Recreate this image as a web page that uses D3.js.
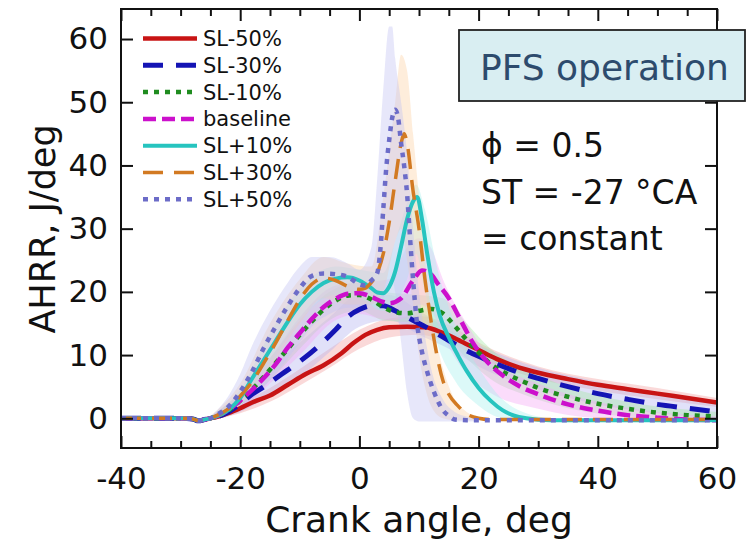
<!DOCTYPE html>
<html>
<head>
<meta charset="utf-8">
<script src="https://cdn.jsdelivr.net/npm/d3@7"></script>
<style>
  body { margin: 0; background: #fff; }
  svg text { font-family: "DejaVu Sans", sans-serif; }
</style>
</head>
<body>
<svg id="chart" width="756" height="542"></svg>
<script>
// ---- data: apparent heat release rate vs crank angle ----
const crankTicks = [-40, -20, 0, 20, 40, 60];
const crankMinorTicks = [-35, -30, -25, -15, -10, -5, 5, 10, 15, 25, 30, 35, 45, 50, 55];
const ahrrTicks = [0, 10, 20, 30, 40, 50, 60];

const seriesNames = ["SL-50%", "SL-30%", "SL-10%", "baseline", "SL+10%", "SL+30%", "SL+50%"];

// mean curves: [crank angle (deg), AHRR (J/deg)]
const slMinus50 = [[-40,0],[-30,0],[-28,-0.1],[-27,-0.4],[-26,-0.2],[-25,0],[-24,0.2],[-22,0.8],[-20,1.6],[-18,2.5],[-15,3.6],[-12,5.3],[-9,7.0],[-6,8.4],[-3,10.3],[-1,11.9],[1,13.2],[3,14.0],[5,14.4],[8,14.5],[11,14.4],[14,13.5],[17,12.2],[20,10.8],[23,9.4],[26,8.3],[30,7.2],[35,6.2],[40,5.3],[45,4.6],[50,3.9],[55,3.2],[60,2.5]];
const slMinus30 = [[-40,0],[-30,0],[-28,-0.1],[-27,-0.4],[-26,-0.2],[-25,0],[-24,0.2],[-22,1.0],[-20,2.3],[-18,3.8],[-16,5.0],[-13,7.0],[-10,9.0],[-7,11.3],[-4,14.0],[-2,16.0],[0,17.2],[2,17.8],[4,17.8],[6,17.0],[8,16.0],[10,15.0],[12,14.0],[15,12.3],[18,10.7],[20,9.8],[23,8.6],[26,7.5],[30,6.3],[35,5.0],[40,3.9],[45,3.0],[50,2.2],[55,1.6],[60,1.0]];
const slMinus10 = [[-40,0],[-30,0],[-28,-0.1],[-27,-0.4],[-26,-0.2],[-25,0],[-24,0.3],[-22,1.2],[-20,2.8],[-18,4.6],[-16,6.6],[-14,8.8],[-12,11.0],[-10,13.2],[-8,15.3],[-6,17.2],[-4,18.6],[-2,19.4],[0,19.5],[2,18.8],[4,17.6],[6,16.8],[8,16.6],[10,17.0],[12,17.3],[14,16.6],[16,14.6],[18,12.4],[20,10.4],[22,8.6],[25,6.9],[28,5.6],[30,4.8],[35,3.4],[40,2.3],[45,1.5],[50,0.9],[55,0.5],[60,0.3]];
const baseline = [[-40,0],[-30,0],[-28,-0.1],[-27,-0.4],[-26,-0.2],[-25,0],[-24,0.3],[-22,1.3],[-20,2.8],[-18,4.5],[-16,6.4],[-14,8.6],[-12,11.2],[-10,13.5],[-8,15.7],[-6,17.6],[-4,18.9],[-2,19.7],[0,19.8],[2,19.2],[4,18.4],[5,18.2],[7,19.0],[9,21.8],[10.5,23.4],[12,22.8],[13,21.5],[15,19.0],[17,15.5],[19,12.0],[21,9.4],[24,6.8],[27,5.0],[30,3.8],[35,2.2],[40,1.2],[45,0.5],[50,0.1],[55,-0.2],[60,-0.3]];
const slPlus10 = [[-40,0],[-30,0],[-28,-0.1],[-27,-0.4],[-26,-0.2],[-25,0],[-24,0.3],[-22,1.3],[-20,3.2],[-18,6.3],[-16,9.3],[-14,12.3],[-12,15.3],[-10,18.0],[-8,20.0],[-6,21.4],[-4,22.1],[-2,22.3],[0,21.8],[2,20.6],[3,19.9],[4,19.8],[5,20.8],[6,23.2],[7,27.2],[8,31.5],[9,34.3],[9.7,35.0],[10.5,31.5],[11.3,26.5],[12.5,20.0],[13.5,16.2],[15,12.8],[16.5,10.0],[18,7.5],[20,4.8],[22,2.8],[24,1.3],[26,0.4],[28,0],[32,-0.3],[60,-0.3]];
const slPlus30 = [[-40,0],[-30,0],[-28,-0.1],[-27,-0.4],[-26,-0.2],[-25,0],[-24,0.4],[-22,1.5],[-20,3.5],[-18,5.8],[-16,8.8],[-14,12.0],[-12,15.5],[-10,18.8],[-8,21.2],[-6,22.2],[-4,21.8],[-2,20.9],[0,20.4],[1,20.6],[2,21.5],[3,23.0],[4,26.0],[5,31.0],[6,37.5],[7,43.5],[7.5,45.0],[8,43.5],[9,36.0],[10,30.0],[11,22.0],[12,15.5],[13,10.0],[14,6.0],[15,3.8],[16.5,2.0],[18,0.7],[20,0],[22,-0.2],[60,-0.2]];
const slPlus50 = [[-40,0],[-30,0],[-28,-0.1],[-27,-0.4],[-26,-0.2],[-25,0],[-24,0.5],[-22,1.8],[-20,4.2],[-18,7.4],[-16,11.2],[-14,14.6],[-12,17.8],[-10,20.6],[-8,22.5],[-6,22.9],[-4,22.8],[-2,22.4],[-1,21.8],[0,21.2],[1,21.0],[2,21.8],[3,23.0],[3.5,26.5],[4,33.0],[4.5,39.5],[5,44.0],[5.5,47.5],[6,48.8],[6.5,47.5],[7,43.5],[7.5,40.0],[8,35.5],[8.5,28.5],[9,22.0],[9.6,15.6],[10.5,10.5],[11.3,7.6],[12.5,4.2],[14,1.3],[15,0.4],[16,-0.2],[18,-0.3],[60,-0.3]];

// cycle-to-cycle spread: [crank angle, lowest, highest]
const slMinus50Spread = [[-25,-0.3,0.3],[-20,0.8,2.4],[-15,2.6,4.8],[-10,5.2,7.8],[-5,8.0,11.0],[0,11.0,14.0],[5,12.8,15.8],[10,13.2,16.2],[15,12.0,14.8],[20,9.6,12.0],[30,6.2,8.2],[40,4.4,6.2],[50,3.0,4.8],[60,1.8,3.2]];
const slMinus30Spread = [[-25,-0.3,0.3],[-20,1.0,3.6],[-15,3.6,8.0],[-10,6.5,12.0],[-5,10.5,16.0],[0,14.5,19.5],[5,15.5,19.5],[10,13.2,17.0],[15,11.0,14.0],[20,8.2,11.6],[30,4.6,8.0],[40,2.2,5.8],[50,0.8,3.8],[60,0.0,2.4]];
const slMinus10Spread = [[-25,-0.3,0.3],[-20,2.0,4.0],[-15,6.0,9.5],[-10,11.0,15.5],[-5,15.5,20.0],[0,17.0,21.5],[4,15.5,20.0],[10,15.0,19.5],[14,13.5,19.0],[18,9.5,15.0],[22,6.2,11.0],[28,3.6,7.6],[35,1.6,5.0],[45,0.3,2.6],[60,-0.3,1.0]];
const baselineSpread = [[-25,-0.3,0.3],[-20,1.5,4.0],[-15,5.5,9.5],[-10,10.0,16.0],[-4,15.5,21.0],[0,16.5,21.5],[5,15.5,22.0],[8,16.0,27.0],[10,18.0,28.5],[12,17.0,27.0],[14,13.0,22.0],[18,7.0,15.0],[22,4.0,9.5],[30,1.5,5.5],[40,0,2.6],[50,-0.3,1.0],[60,-0.3,0.3]];
const slPlus10Spread = [[-25,-0.3,0.3],[-20,2.0,4.5],[-15,8.5,13.5],[-10,15.5,20.5],[-4,19.5,24.0],[0,19.0,23.5],[4,17.0,23.0],[6,18.0,28.0],[8,22.0,34.0],[9.5,26.0,37.0],[11,20.0,33.0],[13,12.0,24.0],[16,6.0,15.0],[20,2.0,8.0],[24,0,3.0],[28,-0.3,0.8],[32,-0.3,0]];
const slPlus30Spread = [[-25,-0.3,0.3],[-20,2.0,5.5],[-15,8.0,15.0],[-10,15.0,22.0],[-6,19.0,25.5],[-2,18.0,24.5],[2,18.0,24.0],[4,20.0,35.0],[6,28.0,50.0],[7,30.0,57.5],[8,25.0,55.0],[9,18.0,45.0],[10,10.0,35.0],[11,5.0,25.0],[12,2.0,17.0],[14,0,8.0],[16,-0.3,3.0],[18,-0.3,1.0],[20,-0.3,0]];
const slPlus50Spread = [[-25,-0.3,0.3],[-22,0.5,3.5],[-20,1.5,7.0],[-18,3.0,11.5],[-15,6.0,17.0],[-12,9.5,21.5],[-10,12.0,24.0],[-8,14.5,25.5],[-5,16.5,25.5],[-2,17.5,24.5],[0,17.5,23.5],[2,18.0,27.0],[3,18.5,38.0],[4,19.0,52.0],[5,21.0,62.0],[5.5,22.0,62.0],[6,20.0,57.0],[7,12.0,50.0],[8,4.0,42.0],[9,0,30.0],[10,-0.5,20.0],[11,-0.5,13.0],[12,-0.5,8.0],[14,-0.5,3.0],[16,-0.5,1.0],[18,-0.5,0.3],[20,-0.5,0]];

// ---- styling per series ----
const lineColors = ["#c81414", "#1414b4", "#1f8c1f", "#cc10cc", "#26c4bf", "#d27a22", "#6c6cc8"];
const spreadColors = ["#f2a0a0", "#b4b4f0", "#a6e6a6", "#f4a8f4", "#a8f0ee", "#fcd2a4", "#c4c4f2"];
const lineWidths = [4.5, 5, 4.5, 4.5, 4, 3.5, 4.5];
const lineDashes = [null, "20,13", "5,6", "13,6", null, "20,11", "5,6"];

const means = [slMinus50, slMinus30, slMinus10, baseline, slPlus10, slPlus30, slPlus50];
const spreads = [slMinus50Spread, slMinus30Spread, slMinus10Spread, baselineSpread, slPlus10Spread, slPlus30Spread, slPlus50Spread];

// ---- layout ----
const svg = d3.select("#chart");
const plot = { left: 121, right: 717, top: 9, bottom: 448 };

const x = d3.scaleLinear().domain([-40, 60]).range([plot.left, plot.right]);
const y = d3.scaleLinear().domain([-4.7, 64.75]).range([plot.bottom, plot.top]);

svg.append("defs").append("clipPath").attr("id", "plotClip")
  .append("rect")
  .attr("x", plot.left).attr("y", plot.top)
  .attr("width", plot.right - plot.left).attr("height", plot.bottom - plot.top);

const dataLayer = svg.append("g").attr("clip-path", "url(#plotClip)");

// spread bands
const band = d3.area()
  .x(d => x(d[0])).y0(d => y(d[1])).y1(d => y(d[2]))
  .curve(d3.curveMonotoneX);

spreads.forEach((s, i) => {
  dataLayer.append("path")
    .datum(s)
    .attr("d", band)
    .attr("fill", spreadColors[i])
    .attr("fill-opacity", 0.4);
});

// mean curves
const line = d3.line()
  .x(d => x(d[0])).y(d => y(d[1]))
  .curve(d3.curveMonotoneX);

means.forEach((m, i) => {
  dataLayer.append("path")
    .datum(m)
    .attr("d", line)
    .attr("fill", "none")
    .attr("stroke", lineColors[i])
    .attr("stroke-width", lineWidths[i])
    .attr("stroke-dasharray", lineDashes[i])
    .attr("stroke-linejoin", "round");
});

// ---- axes (ticks pointing inward on all four sides) ----
const plainNumber = d => String(d);

function styleAxis(g) {
  g.select(".domain").remove();
  g.selectAll(".tick line").attr("stroke", "#111").attr("stroke-width", 2);
  g.selectAll(".tick text").attr("fill", "#111").attr("font-size", 31)
    .attr("font-family", "DejaVu Sans, sans-serif");
}

svg.append("g").attr("transform", `translate(0,${plot.bottom})`)
  .call(d3.axisBottom(x).tickValues(crankTicks).tickSize(-12).tickPadding(19).tickFormat(plainNumber))
  .call(styleAxis);
svg.append("g").attr("transform", `translate(0,${plot.bottom})`)
  .call(d3.axisBottom(x).tickValues(crankMinorTicks).tickSize(-7).tickFormat(""))
  .call(styleAxis);
svg.append("g").attr("transform", `translate(0,${plot.top})`)
  .call(d3.axisTop(x).tickValues(crankTicks).tickSize(-12).tickFormat(""))
  .call(styleAxis);
svg.append("g").attr("transform", `translate(0,${plot.top})`)
  .call(d3.axisTop(x).tickValues(crankMinorTicks).tickSize(-7).tickFormat(""))
  .call(styleAxis);
svg.append("g").attr("transform", `translate(${plot.left},0)`)
  .call(d3.axisLeft(y).tickValues(ahrrTicks).tickSize(-12).tickPadding(13).tickFormat(plainNumber))
  .call(styleAxis);
svg.append("g").attr("transform", `translate(${plot.right},0)`)
  .call(d3.axisRight(y).tickValues(ahrrTicks).tickSize(-12).tickFormat(""))
  .call(styleAxis);

svg.append("rect")
  .attr("x", plot.left).attr("y", plot.top)
  .attr("width", plot.right - plot.left).attr("height", plot.bottom - plot.top)
  .attr("fill", "none").attr("stroke", "#111").attr("stroke-width", 2);

// axis titles
svg.append("text")
  .attr("x", (plot.left + plot.right) / 2).attr("y", 532)
  .attr("text-anchor", "middle").attr("font-size", 36).attr("fill", "#111")
  .text("Crank angle, deg");
svg.append("text")
  .attr("transform", `translate(55,229) rotate(-90)`)
  .attr("text-anchor", "middle").attr("font-size", 35).attr("fill", "#111")
  .text("AHRR, J/deg");

// ---- legend ----
const legend = svg.append("g");
seriesNames.forEach((name, i) => {
  const ly = 38.5 + i * 26.8;
  legend.append("line")
    .attr("x1", 143).attr("x2", 197).attr("y1", ly).attr("y2", ly)
    .attr("stroke", lineColors[i])
    .attr("stroke-width", lineWidths[i])
    .attr("stroke-dasharray", lineDashes[i]);
  legend.append("text")
    .attr("x", 203).attr("y", ly).attr("dy", "0.36em")
    .attr("font-size", 21).attr("fill", "#111")
    .text(name);
});

// ---- operating-condition notes ----
svg.append("rect")
  .attr("x", 459).attr("y", 30).attr("width", 286).attr("height", 71)
  .attr("fill", "#d9eef2").attr("stroke", "#222").attr("stroke-width", 1.8);
svg.append("text")
  .attr("x", 480).attr("y", 80)
  .attr("font-family", "Open Sans, sans-serif").attr("font-size", 36).attr("fill", "#2d4b6d")
  .text("PFS operation");

const notes = ["ϕ = 0.5", "ST = -27 °CA", "= constant"];
notes.forEach((t, i) => {
  svg.append("text")
    .attr("x", 481).attr("y", 157 + i * 46.5)
    .attr("font-family", "Open Sans, sans-serif").attr("font-size", 33).attr("fill", "#111")
    .text(t);
});
</script>
</body>
</html>
